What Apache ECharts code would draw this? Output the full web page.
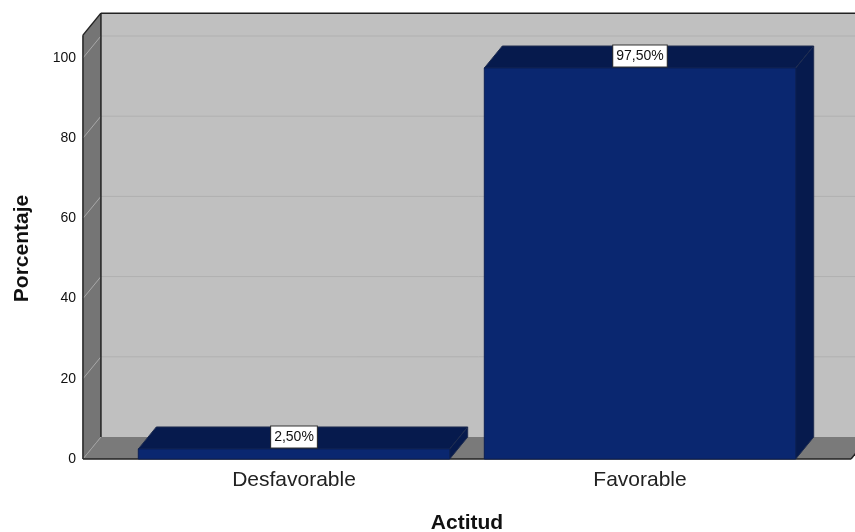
<!DOCTYPE html>
<html>
<head>
<meta charset="utf-8">
<script src="https://cdn.jsdelivr.net/npm/echarts@6/dist/echarts.min.js"></script>
<style>html,body{margin:0;padding:0;background:#fff}#c{width:855px;height:532px}</style>
</head>
<body>
<div id="c"></div>
<script>
const categories = ['Desfavorable', 'Favorable'];
const values = [2.5, 97.5];
const yTicks = [0, 20, 40, 60, 80, 100];
const xTitle = 'Actitud';
const yTitle = 'Porcentaje';
const DX = 18, DY = -22, TOPV = 105.7, PAD = 0.11, BARW = 0.9;
const FONT = '"Liberation Sans", Arial, sans-serif';

const chart = echarts.init(document.getElementById('c'), null, {renderer: 'canvas'});

function poly(points, fill, stroke, lw) {
  return {type: 'polygon', shape: {points}, silent: true,
    style: {fill: fill, stroke: stroke || null, lineWidth: lw || 0}};
}
function seg(a, b, color, lw) {
  return {type: 'line', shape: {x1: a[0], y1: a[1], x2: b[0], y2: b[1]}, silent: true,
    style: {stroke: color, lineWidth: lw || 1, fill: null}};
}

function renderBox(params, api) {
  const p0 = api.coord([0, 0]);
  const band = api.size([1, 0])[0];
  const l = p0[0] - band * (0.5 + PAD);
  const r = p0[0] + band * (1.5 + PAD);
  const y0 = p0[1];
  const yt = api.coord([0, TOPV])[1];
  const ch = [];
  ch.push(poly([[l + DX, yt + DY], [900, yt + DY], [900, y0 + DY], [l + DX, y0 + DY]], '#c0c0c0'));
  ch.push(poly([[l, yt], [l + DX, yt + DY], [l + DX, y0 + DY], [l, y0]], '#757575'));
  ch.push(poly([[l, y0], [l + DX, y0 + DY], [r + DX, y0 + DY], [r, y0]], '#7a7a7a'));
  yTicks.forEach(function (t) {
    const y = api.coord([0, t])[1];
    if (t > 0) {
      ch.push(seg([l + DX, y + DY], [900, y + DY], '#b0b0b0', 1));
      ch.push(seg([l, y], [l + DX, y + DY], '#a8a8a8', 1));
    } else {
      ch.push(seg([l, y], [l + DX, y + DY], '#a0a0a0', 1));
    }
  });
  ch.push(seg([l + DX, yt + DY], [900, yt + DY], '#222', 1.5));
  ch.push(seg([l + DX, yt + DY], [l + DX, y0 + DY], '#222', 1.5));
  ch.push(seg([l, yt], [l + DX, yt + DY], '#222', 1.5));
  ch.push(seg([l, yt], [l, y0], '#222', 1.5));
  ch.push(seg([l, y0], [r, y0], '#222', 1.5));
  ch.push(seg([r, y0], [r + DX, y0 + DY], '#222', 1.5));
  return {type: 'group', children: ch};
}

function renderBar(params, api) {
  const idx = api.value(0), v = api.value(1);
  const top = api.coord([idx, v]);
  const base = api.coord([idx, 0]);
  const w = api.size([1, 0])[0] * BARW;
  const x1 = top[0] - w / 2, x2 = top[0] + w / 2;
  const yT = top[1], yB = base[1];
  const edge = '#1f2d50';
  return {type: 'group', children: [
    poly([[x1, yT], [x1 + DX, yT + DY], [x2 + DX, yT + DY], [x2, yT]], '#061a4d', edge, 1),
    poly([[x2, yT], [x2 + DX, yT + DY], [x2 + DX, yB + DY], [x2, yB]], '#061a4d', edge, 1),
    {type: 'rect', shape: {x: x1, y: yT, width: w, height: yB - yT}, silent: true,
      style: {fill: '#0a2770', stroke: '#0a1f55', lineWidth: 1}},
    {type: 'text', silent: true, x: top[0], y: yT - 12, z2: 10, style: {
      text: v.toFixed(2).replace('.', ',') + '%',
      align: 'center', verticalAlign: 'middle',
      font: '14px ' + FONT, fill: '#111',
      backgroundColor: '#fff', borderColor: '#333', borderWidth: 1,
      padding: [4, 3, 3, 3]
    }}
  ]};
}

chart.setOption({
  animation: false,
  backgroundColor: '#fff',
  grid: {left: 121, width: 692, top: 58, height: 401, outerBoundsMode: 'none', containLabel: false},
  xAxis: {
    type: 'category', data: categories,
    axisLine: {show: false}, axisTick: {show: false},
    axisLabel: {color: '#222', fontFamily: FONT, fontSize: 21, margin: 11},
    name: xTitle, nameLocation: 'middle', nameGap: 54,
    nameTextStyle: {color: '#111', fontFamily: FONT, fontSize: 21, fontWeight: 'bold'}
  },
  yAxis: {
    type: 'value', min: 0, max: 100, interval: 20,
    offset: 38,
    axisLine: {show: false}, axisTick: {show: false}, splitLine: {show: false},
    axisLabel: {color: '#111', fontFamily: FONT, fontSize: 14, margin: 7, padding: [2, 0, 0, 0]},
    name: yTitle, nameLocation: 'middle', nameGap: 50, nameRotate: 90,
    nameTextStyle: {color: '#111', fontFamily: FONT, fontSize: 21, fontWeight: 'bold', padding: [0, 0, 0, 20]}
  },
  series: [
    {type: 'custom', renderItem: renderBox, data: [[0, 0]], z: 1, silent: true, clip: false},
    {type: 'custom', renderItem: renderBar, z: 2, silent: true, clip: false,
      encode: {x: 0, y: 1},
      data: categories.map(function (c, i) { return [i, values[i]]; })}
  ]
});
</script>
</body>
</html>
